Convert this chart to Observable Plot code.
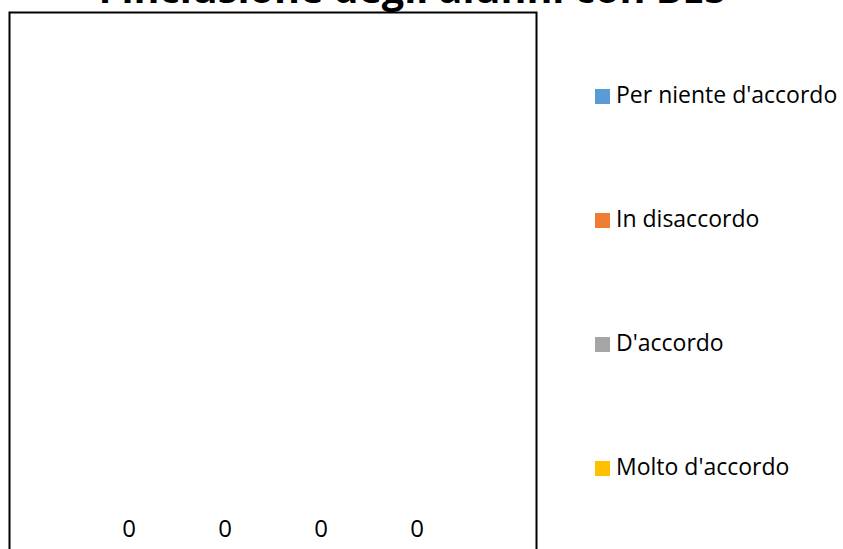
<!DOCTYPE html>
<html>
<head>
<meta charset="utf-8">
<script src="https://cdn.jsdelivr.net/npm/d3@7"></script>
<script src="https://cdn.jsdelivr.net/npm/@observablehq/plot@0.6"></script>
<style>
  html, body { margin: 0; padding: 0; background: #fff; }
  body { width: 843px; height: 549px; overflow: hidden; position: relative; font-family: "Open Sans", sans-serif; }
  #title { position: absolute; left: 0; width: 825px; text-align: center; font-weight: bold; font-size: 39.5px; line-height: 39.5px; top: -31.5px; white-space: nowrap; color: #000; }
  #chart { position: absolute; left: 0; top: 0; }
  .lg-sw { position: absolute; width: 15px; height: 15px; left: 595px; }
  .lg-tx { position: absolute; left: 616px; font-size: 23px; line-height: 23px; white-space: nowrap; color: #000; }
</style>
</head>
<body>
<div id="chart"></div>
<div id="title">l'inclusione degli alunni con BES</div>
<div id="legend"></div>
<script>
// Data
const series = ["Per niente d'accordo", "In disaccordo", "D'accordo", "Molto d'accordo"];
const values = [0, 0, 0, 0];
const colors = ["#5B9BD5", "#ED7D31", "#A5A5A5", "#FFC000"];

const data = series.map((s, i) => ({series: s, value: values[i]}));

const chart = Plot.plot({
  width: 843,
  height: 560,
  marginLeft: 9,
  marginRight: 307,
  marginTop: 12,
  marginBottom: 0,
  style: {fontFamily: "Open Sans", fontSize: "24px", background: "#fff", color: "#000"},
  x: {type: "band", domain: series, axis: null, paddingOuter: 0.87, paddingInner: 0.3},
  y: {domain: [0, 1], axis: null},
  color: {domain: series, range: colors},
  marks: [
    Plot.barY(data, {x: "series", y: "value", fill: "series"}),
    Plot.text(data, {x: "series", y: "value", text: d => String(d.value), dy: -31.5, fill: "#000", fontSize: 24}),
    Plot.frame({stroke: "#000", strokeWidth: 2})
  ]
});
document.getElementById("chart").appendChild(chart);

// Legend
const legend = document.getElementById("legend");
const firstBaseline = 103, rowStep = 124.3, fs = 23;
series.forEach((s, i) => {
  const base = firstBaseline + i * rowStep;
  const sw = document.createElement("div");
  sw.className = "lg-sw";
  sw.style.background = colors[i];
  sw.style.top = (base - 14.5) + "px";
  legend.appendChild(sw);
  const tx = document.createElement("div");
  tx.className = "lg-tx";
  tx.textContent = s;
  tx.style.top = (base - 0.888 * fs) + "px";
  legend.appendChild(tx);
});
</script>
</body>
</html>
